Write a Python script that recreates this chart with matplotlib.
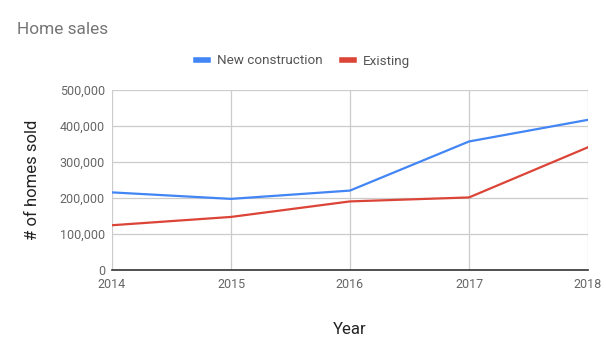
import matplotlib.pyplot as plt
from matplotlib.ticker import FuncFormatter

years = [2014, 2015, 2016, 2017, 2018]
new_construction = [215000, 197000, 220000, 356000, 416000]
existing = [124000, 147000, 190000, 201000, 340000]

plt.rcParams['font.family'] = ['Roboto', 'DejaVu Sans']

fig = plt.figure(figsize=(6.06, 3.52), dpi=100)
ax = fig.add_axes([112/606, 82/352, 476/606, 180.5/352])

ax.plot(years, new_construction, color='#4285F4', lw=1.6, label='New construction')
ax.plot(years, existing, color='#DB4437', lw=1.6, label='Existing')

ax.set_xlim(2014, 2018)
ax.set_ylim(0, 500000)
ax.set_xticks(years)
ax.set_yticks(range(0, 500001, 100000))
ax.yaxis.set_major_formatter(FuncFormatter(lambda v, p: f'{int(v):,}'))
ax.grid(True, color='#cccccc', lw=0.9)
ax.set_axisbelow(True)
for s in ['top', 'right', 'left']:
    ax.spines[s].set_visible(False)
ax.spines['bottom'].set_color('#333333')
ax.spines['bottom'].set_linewidth(1.2)
ax.tick_params(length=0, labelsize=9, labelcolor='#666666')
ax.tick_params(axis='x', pad=6)
ax.tick_params(axis='y', pad=5)

ax.set_xlabel('Year', fontsize=12, color='#222222', labelpad=22)
ax.set_ylabel('# of homes sold', fontsize=12, color='#222222', labelpad=14)

fig.text(17/606, 1 - 30/352, 'Home sales', fontsize=12.4, color='#757575', va='center')
fig.legend(loc='center', bbox_to_anchor=(303/606, 1 - 61/352), ncol=2, frameon=False,
           fontsize=9.7, handlelength=0.9, handletextpad=0.6, columnspacing=1.5,
           labelcolor='#555555')
for h in fig.legends[0].legend_handles:
    h.set_linewidth(4)

fig.savefig('out.png', dpi=100)
